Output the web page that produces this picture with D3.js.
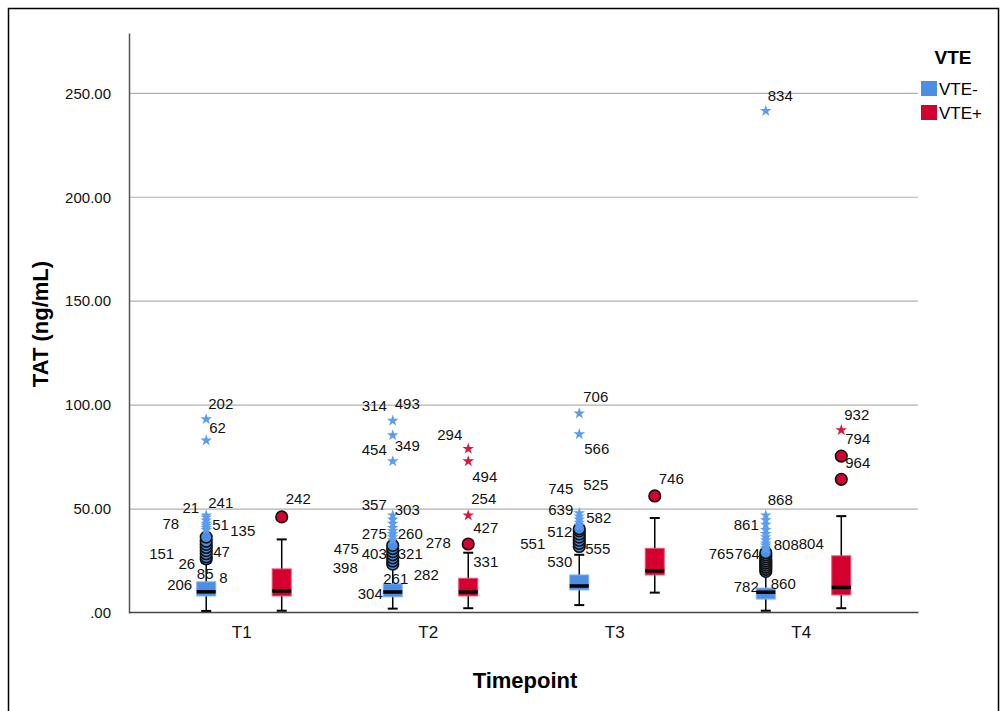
<!DOCTYPE html>
<html>
<head>
<meta charset="utf-8">
<script src="https://cdn.jsdelivr.net/npm/d3@7"></script>
<style>
  body { margin: 0; background: #fff; }
  svg { font-family: "Liberation Sans", Arial, sans-serif; }
</style>
</head>
<body>
<svg id="svg" width="1002" height="711"></svg>
<script>
// categories
let timepoints = ["T1", "T2", "T3", "T4"];
let groups = ["VTE-", "VTE+"];
let yTicks = [0, 50, 100, 150, 200, 250];

// box stats per timepoint (ng/mL)
let negLow  = [1.0, 2.1, 3.8, 1.1];
let negQ1   = [8.2, 7.8, 11.1, 6.7];
let negMed  = [10.2, 10.1, 13.0, 10.0];
let negQ3   = [15.0, 14.0, 18.3, 12.0];
let negHigh = [24.0, 22.0, 28.0, 19.5];

let posLow  = [1.1, 2.3, 9.8, 2.3];
let posQ1   = [8.2, 8.2, 18.3, 8.7];
let posMed  = [10.6, 10.1, 20.3, 12.3];
let posQ3   = [21.2, 16.7, 31.1, 27.5];
let posHigh = [35.4, 29.0, 45.7, 46.6];

// outliers: [timepoint, group, value]
let circles = [
    ["T1","VTE-",26],["T1","VTE-",27],["T1","VTE-",28.5],["T1","VTE-",30],["T1","VTE-",31.5],
    ["T1","VTE-",33],["T1","VTE-",34.5],["T1","VTE-",36.5],
    ["T2","VTE-",23.5],["T2","VTE-",25],["T2","VTE-",26.5],["T2","VTE-",28],["T2","VTE-",29.5],
    ["T2","VTE-",31],["T2","VTE-",32.5],
    ["T3","VTE-",32],["T3","VTE-",33.5],["T3","VTE-",35],["T3","VTE-",36.5],["T3","VTE-",38],
    ["T3","VTE-",39.5],["T3","VTE-",40.5],
    ["T4","VTE-",20],["T4","VTE-",21],["T4","VTE-",22],["T4","VTE-",23],["T4","VTE-",24],
    ["T4","VTE-",25],["T4","VTE-",26],["T4","VTE-",27],["T4","VTE-",28],["T4","VTE-",29],
    ["T1","VTE+",46.2],
    ["T2","VTE+",33.2],
    ["T3","VTE+",56.3],
    ["T4","VTE+",64.3],["T4","VTE+",75.5]
];
let stars = [
    ["T1","VTE-",40],["T1","VTE-",41],["T1","VTE-",42],["T1","VTE-",43],["T1","VTE-",44.5],
    ["T1","VTE-",46],["T1","VTE-",47],["T1","VTE-",83],["T1","VTE-",93.2],
    ["T2","VTE-",35],["T2","VTE-",36.5],["T2","VTE-",38],["T2","VTE-",39.5],["T2","VTE-",41],
    ["T2","VTE-",43],["T2","VTE-",45],["T2","VTE-",47],["T2","VTE-",73],["T2","VTE-",85.5],
    ["T2","VTE-",92.5],
    ["T3","VTE-",42],["T3","VTE-",43.5],["T3","VTE-",45],["T3","VTE-",46.5],["T3","VTE-",48],
    ["T3","VTE-",86],["T3","VTE-",96],
    ["T4","VTE-",30.5],["T4","VTE-",31.5],["T4","VTE-",32.5],["T4","VTE-",33.5],["T4","VTE-",35],
    ["T4","VTE-",36.5],["T4","VTE-",38],["T4","VTE-",40],["T4","VTE-",42.5],["T4","VTE-",44.7],
    ["T4","VTE-",47],["T4","VTE-",241.5],
    ["T2","VTE+",47],["T2","VTE+",73],["T2","VTE+",79],
    ["T4","VTE+",88]
];

// case-number labels: [timepoint, group, value, text]
let caseLabels = [
    ["T1","VTE-",100.5,"202"],["T1","VTE-",89.1,"62"],["T1","VTE-",50.6,"21"],["T1","VTE-",53.2,"241"],
    ["T1","VTE-",43.1,"78"],["T1","VTE-",42.6,"51"],["T1","VTE-",39.6,"135"],["T1","VTE-",28.7,"151"],
    ["T1","VTE-",29.3,"47"],["T1","VTE-",23.9,"26"],["T1","VTE-",19.1,"85"],["T1","VTE-",17,"8"],
    ["T1","VTE-",13.8,"206"],
    ["T1","VTE+",54.8,"242"],
    ["T2","VTE-",99.5,"314"],["T2","VTE-",100.5,"493"],["T2","VTE-",78.4,"454"],["T2","VTE-",80.4,"349"],
    ["T2","VTE-",51.9,"357"],["T2","VTE-",49.5,"303"],["T2","VTE-",38.3,"275"],["T2","VTE-",38.3,"260"],
    ["T2","VTE-",34,"278"],["T2","VTE-",31.1,"475"],["T2","VTE-",28.7,"403"],["T2","VTE-",28.7,"321"],
    ["T2","VTE-",22,"398"],["T2","VTE-",16.7,"261"],["T2","VTE-",18.6,"282"],["T2","VTE-",9.5,"304"],
    ["T2","VTE+",85.9,"294"],["T2","VTE+",65.5,"494"],["T2","VTE+",55.1,"254"],["T2","VTE+",41,"427"],
    ["T2","VTE+",24.7,"331"],
    ["T3","VTE-",104,"706"],["T3","VTE-",78.8,"566"],["T3","VTE-",59.6,"745"],["T3","VTE-",61.9,"525"],
    ["T3","VTE-",49.9,"639"],["T3","VTE-",46,"582"],["T3","VTE-",39.1,"512"],["T3","VTE-",30.8,"555"],
    ["T3","VTE-",24.7,"530"],["T3","VTE-",33.2,"551"],
    ["T3","VTE+",64.4,"746"],
    ["T4","VTE-",249,"834"],["T4","VTE-",54.3,"868"],["T4","VTE-",42.3,"861"],["T4","VTE-",28.4,"764"],
    ["T4","VTE-",28.4,"765"],["T4","VTE-",32.7,"808"],["T4","VTE-",33.2,"804"],["T4","VTE-",12.6,"782"],
    ["T4","VTE-",13.9,"860"],
    ["T4","VTE+",95.5,"932"],["T4","VTE+",83.6,"794"],["T4","VTE+",72.5,"964"]
];

// label placement beside the box centre: [dx, anchor]
let labelPlace = {
    "202":[2,"start"],"62":[3,"start"],"21":[-7,"end"],"241":[2,"start"],"78":[-27,"end"],
    "51":[6,"start"],"135":[24,"start"],"151":[-32,"end"],"47":[7,"start"],"26":[-11,"end"],
    "85":[-1,"middle"],"8":[13,"start"],"206":[-14,"end"],"242":[4,"start"],
    "314":[-6,"end"],"493":[2,"start"],"454":[-6,"end"],"349":[2,"start"],"357":[-6,"end"],
    "303":[2,"start"],"275":[-6,"end"],"260":[5,"start"],"278":[33,"start"],"475":[-34,"end"],
    "403":[-6,"end"],"321":[5,"start"],"398":[-35,"end"],"261":[3,"middle"],"282":[21,"start"],
    "304":[-10,"end"],"294":[-6,"end"],"494":[4,"start"],"254":[3,"start"],"427":[5,"start"],
    "331":[5,"start"],"706":[4,"start"],"566":[5,"start"],"745":[-6,"end"],"525":[4,"start"],
    "639":[-6,"end"],"582":[7,"start"],"512":[-7,"end"],"555":[6,"start"],"530":[-7,"end"],
    "551":[-34,"end"],"746":[4,"start"],"834":[2,"start"],"868":[2,"start"],"861":[-7,"end"],
    "764":[-6,"end"],"765":[-32,"end"],"808":[8,"start"],"804":[33,"start"],"782":[-7,"end"],
    "860":[5,"start"],"932":[3,"start"],"794":[4,"start"],"964":[4,"start"]
};

let fills = {"VTE-": "#4a8fe4", "VTE+": "#d5002f"};
let edges = {"VTE-": "#80b2ef", "VTE+": "#e4526e"};
let starFills = {"VTE-": "#5a9cf0", "VTE+": "#d8163f"};

let svg = d3.select("#svg");

// outer frame
svg.append("rect")
    .attr("x", 8.5).attr("y", 8.5)
    .attr("width", 990).attr("height", 720)
    .attr("fill", "none").attr("stroke", "#000").attr("stroke-width", 1.5);

let x = d3.scaleBand().domain(timepoints).range([129, 918]).paddingOuter(0.115).paddingInner(0);
let xg = d3.scalePoint().domain(groups).range([-37.5, 38]);
let y = d3.scaleLinear().domain([0, 279]).range([613, 33]);

let cx = (t, g) => x(t) + x.bandwidth() / 2 + xg(g);

// gridlines
svg.append("g")
    .selectAll("line")
    .data(yTicks.filter(d => d > 0))
    .enter()
    .append("line")
    .attr("x1", 129).attr("x2", 918)
    .attr("y1", d => y(d)).attr("y2", d => y(d))
    .attr("stroke", "#b0b0b0").attr("stroke-width", 1.2);

// y axis
let yAxis = d3.axisLeft(y)
    .tickValues(yTicks)
    .tickSize(0)
    .tickPadding(18)
    .tickFormat(d => d === 0 ? ".00" : d3.format(".2f")(d));
let yg = svg.append("g").attr("transform", "translate(129,0)").call(yAxis);
yg.select(".domain").attr("stroke", "#555").attr("stroke-width", 1.5);
yg.selectAll("text").attr("font-size", 15).attr("fill", "#111")
    .attr("font-family", "'Liberation Sans', Arial, sans-serif");

// x axis
let xAxis = d3.axisBottom(x).tickSize(0).tickPadding(14);
let xgAxis = svg.append("g").attr("transform", "translate(0,612)").call(xAxis);
xgAxis.select(".domain").attr("stroke", "#444").attr("stroke-width", 1.5);
xgAxis.selectAll("text").attr("font-size", 17).attr("fill", "#111")
    .attr("dx", -2)
    .attr("font-family", "'Liberation Sans', Arial, sans-serif");

// axis titles
svg.append("text")
    .attr("transform", "translate(48,324) rotate(-90)")
    .attr("text-anchor", "middle")
    .attr("font-size", 22).attr("font-weight", "bold")
    .text("TAT (ng/mL)");
svg.append("text")
    .attr("x", 525).attr("y", 688)
    .attr("text-anchor", "middle")
    .attr("font-size", 22).attr("font-weight", "bold")
    .text("Timepoint");

// box data
let boxes = [];
timepoints.forEach((t, i) => {
    boxes.push({t: t, g: "VTE-", low: negLow[i], q1: negQ1[i], med: negMed[i], q3: negQ3[i], high: negHigh[i]});
    boxes.push({t: t, g: "VTE+", low: posLow[i], q1: posQ1[i], med: posMed[i], q3: posQ3[i], high: posHigh[i]});
});

let boxW = 19;
let capW = 10;
let bg = svg.append("g").selectAll("g")
    .data(boxes)
    .enter()
    .append("g");

bg.append("line")
    .attr("x1", d => cx(d.t, d.g)).attr("x2", d => cx(d.t, d.g))
    .attr("y1", d => y(d.low)).attr("y2", d => y(d.high))
    .attr("stroke", "#000").attr("stroke-width", 1.5);
bg.append("line")
    .attr("x1", d => cx(d.t, d.g) - capW / 2).attr("x2", d => cx(d.t, d.g) + capW / 2)
    .attr("y1", d => y(d.low)).attr("y2", d => y(d.low))
    .attr("stroke", "#000").attr("stroke-width", 2);
bg.append("line")
    .attr("x1", d => cx(d.t, d.g) - capW / 2).attr("x2", d => cx(d.t, d.g) + capW / 2)
    .attr("y1", d => y(d.high)).attr("y2", d => y(d.high))
    .attr("stroke", "#000").attr("stroke-width", 2);
bg.append("rect")
    .attr("x", d => cx(d.t, d.g) - boxW / 2)
    .attr("y", d => y(d.q3))
    .attr("width", boxW)
    .attr("height", d => y(d.q1) - y(d.q3))
    .attr("fill", d => fills[d.g])
    .attr("stroke", d => edges[d.g]).attr("stroke-width", 1);
bg.append("line")
    .attr("x1", d => cx(d.t, d.g) - boxW / 2).attr("x2", d => cx(d.t, d.g) + boxW / 2)
    .attr("y1", d => y(d.med)).attr("y2", d => y(d.med))
    .attr("stroke", "#000").attr("stroke-width", 3.5);

// mild outliers
svg.append("g").selectAll("circle")
    .data(circles)
    .enter()
    .append("circle")
    .attr("cx", d => cx(d[0], d[1]))
    .attr("cy", d => y(d[2]))
    .attr("r", 5.8)
    .attr("fill", d => fills[d[1]])
    .attr("stroke", "#111").attr("stroke-width", 1.6);

// extreme outliers
let star = d3.symbol().type(d3.symbolStar).size(42);
svg.append("g").selectAll("path")
    .data(stars)
    .enter()
    .append("path")
    .attr("d", star)
    .attr("transform", d => `translate(${cx(d[0], d[1])},${y(d[2])})`)
    .attr("fill", d => starFills[d[1]]);

// case labels
svg.append("g").selectAll("text")
    .data(caseLabels)
    .enter()
    .append("text")
    .attr("x", d => cx(d[0], d[1]) + labelPlace[d[3]][0])
    .attr("y", d => y(d[2]))
    .attr("dy", "0.35em")
    .attr("text-anchor", d => labelPlace[d[3]][1])
    .attr("font-size", 15)
    .attr("fill", "#111")
    .text(d => d[3]);

// legend
let legend = svg.append("g");
legend.append("text")
    .attr("x", 953).attr("y", 64)
    .attr("text-anchor", "middle")
    .attr("font-size", 19).attr("font-weight", "bold")
    .text("VTE");
let li = legend.selectAll("g.item")
    .data(groups)
    .enter()
    .append("g")
    .attr("class", "item")
    .attr("transform", (d, i) => `translate(921,${81 + i * 24})`);
li.append("rect")
    .attr("width", 16).attr("height", 15)
    .attr("fill", d => fills[d]);
li.append("text")
    .attr("x", 18).attr("y", 8)
    .attr("dy", "0.35em")
    .attr("font-size", 17)
    .text(d => d);
</script>
</body>
</html>
